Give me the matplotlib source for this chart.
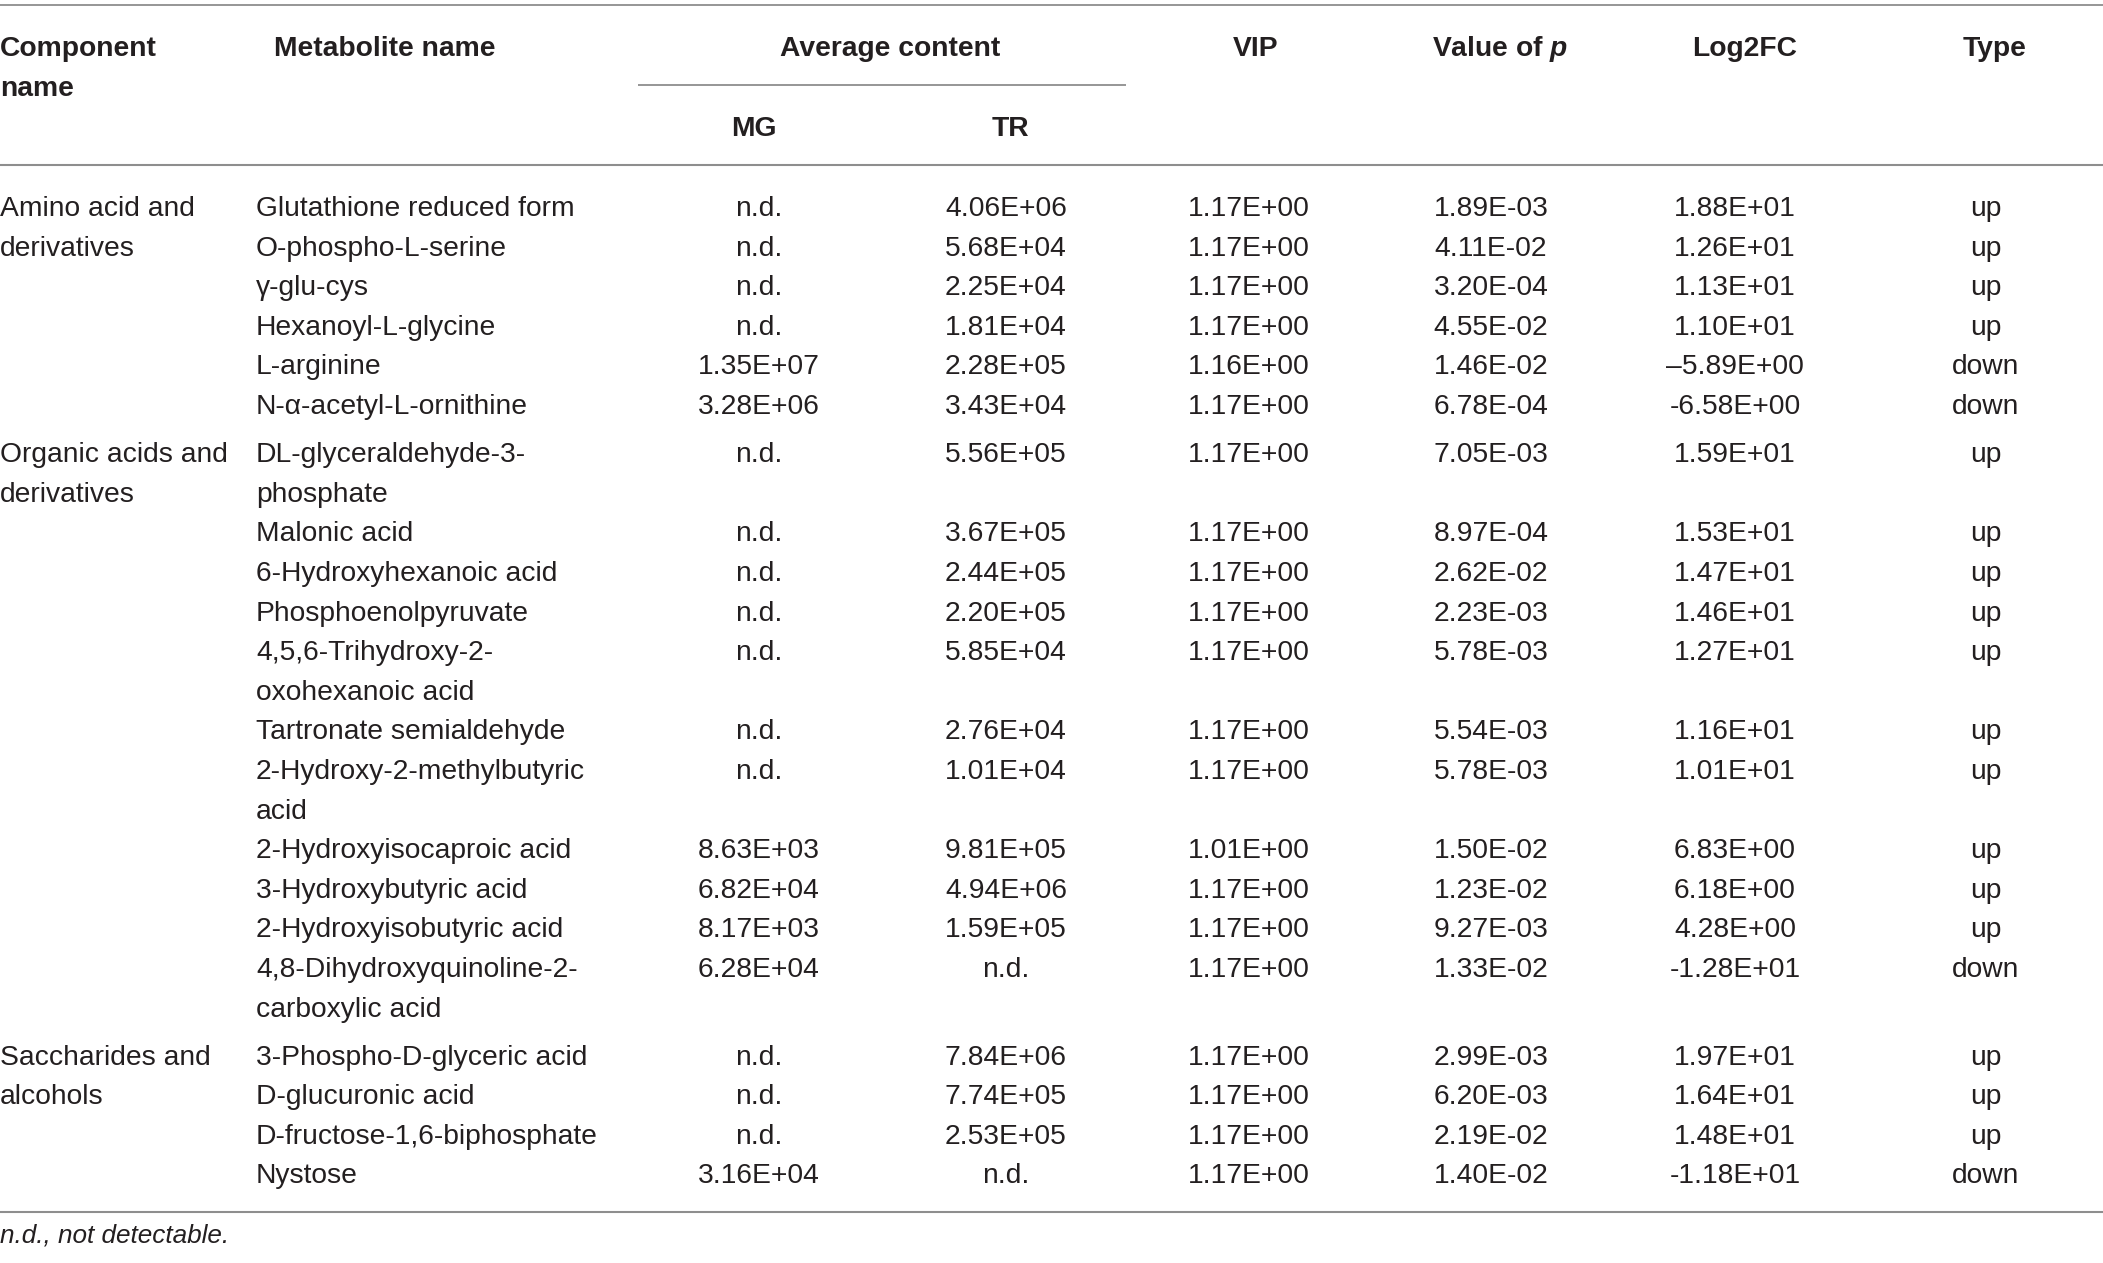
import matplotlib
matplotlib.use("Agg")
import matplotlib.pyplot as plt

plt.rcParams['font.family'] = ['Liberation Sans', 'DejaVu Sans']
plt.rcParams['mathtext.fontset'] = 'custom'
plt.rcParams['mathtext.it'] = 'Liberation Sans:italic:bold'
plt.rcParams['mathtext.rm'] = 'Liberation Sans:bold'

# ---------------- data ----------------
components = ["Amino acid and\nderivatives",
              "Organic acids and\nderivatives",
              "Saccharides and\nalcohols"]

amino_names = ["Glutathione reduced form", "O-phospho-L-serine", "\u03b3-glu-cys",
               "Hexanoyl-L-glycine", "L-arginine", "N-\u03b1-acetyl-L-ornithine"]
organic_names = ["DL-glyceraldehyde-3-\nphosphate", "Malonic acid", "6-Hydroxyhexanoic acid",
                 "Phosphoenolpyruvate", "4,5,6-Trihydroxy-2-\noxohexanoic acid",
                 "Tartronate semialdehyde", "2-Hydroxy-2-methylbutyric\nacid",
                 "2-Hydroxyisocaproic acid", "3-Hydroxybutyric acid",
                 "2-Hydroxyisobutyric acid", "4,8-Dihydroxyquinoline-2-\ncarboxylic acid"]
sacch_names = ["3-Phospho-D-glyceric acid", "D-glucuronic acid",
               "D-fructose-1,6-biphosphate", "Nystose"]

mg = ["n.d.", "n.d.", "n.d.", "n.d.", "1.35E+07", "3.28E+06",
      "n.d.", "n.d.", "n.d.", "n.d.", "n.d.", "n.d.", "n.d.",
      "8.63E+03", "6.82E+04", "8.17E+03", "6.28E+04",
      "n.d.", "n.d.", "n.d.", "3.16E+04"]
tr = ["4.06E+06", "5.68E+04", "2.25E+04", "1.81E+04", "2.28E+05", "3.43E+04",
      "5.56E+05", "3.67E+05", "2.44E+05", "2.20E+05", "5.85E+04", "2.76E+04", "1.01E+04",
      "9.81E+05", "4.94E+06", "1.59E+05", "n.d.",
      "7.84E+06", "7.74E+05", "2.53E+05", "n.d."]
vip = ["1.17E+00", "1.17E+00", "1.17E+00", "1.17E+00", "1.16E+00", "1.17E+00",
       "1.17E+00", "1.17E+00", "1.17E+00", "1.17E+00", "1.17E+00", "1.17E+00", "1.17E+00",
       "1.01E+00", "1.17E+00", "1.17E+00", "1.17E+00",
       "1.17E+00", "1.17E+00", "1.17E+00", "1.17E+00"]
pval = ["1.89E-03", "4.11E-02", "3.20E-04", "4.55E-02", "1.46E-02", "6.78E-04",
        "7.05E-03", "8.97E-04", "2.62E-02", "2.23E-03", "5.78E-03", "5.54E-03", "5.78E-03",
        "1.50E-02", "1.23E-02", "9.27E-03", "1.33E-02",
        "2.99E-03", "6.20E-03", "2.19E-02", "1.40E-02"]
log2fc = ["1.88E+01", "1.26E+01", "1.13E+01", "1.10E+01", "\u20135.89E+00", "-6.58E+00",
          "1.59E+01", "1.53E+01", "1.47E+01", "1.46E+01", "1.27E+01", "1.16E+01", "1.01E+01",
          "6.83E+00", "6.18E+00", "4.28E+00", "-1.28E+01",
          "1.97E+01", "1.64E+01", "1.48E+01", "-1.18E+01"]
types = ["up", "up", "up", "up", "down", "down",
         "up", "up", "up", "up", "up", "up", "up", "up", "up", "up", "down",
         "up", "up", "up", "down"]

headers = ["Component\nname", "Metabolite name", "Average content", "MG", "TR",
           "VIP", "Value of $p$", "Log2FC", "Type"]
footnote = "n.d., not detectable."

# ---------------- layout ----------------
W, H = 2103, 1263
fig = plt.figure(figsize=(W / 100, H / 100), dpi=100)
ax = fig.add_axes([0, 0, 1, 1])
ax.set_xlim(0, W)
ax.set_ylim(H, 0)
ax.axis('off')

FS = 20.3
TXT = '#231f20'
LINE = '#8e8e8e'
LH = 39.6
GAP = 8.5
BASE = 11  # baseline offset from visual centre

def put(x, yc, s, ha='left', weight='normal', style='normal', fs=FS):
    for i, line in enumerate(s.split('\n')):
        ax.text(x, yc + i * LH + BASE, line, ha=ha, va='baseline', fontsize=fs,
                color=TXT, fontweight=weight, fontstyle=style)

# rules
ax.hlines(4.5, 0, W, color=LINE, lw=1.3)
ax.hlines(85, 638, 1126, color=LINE, lw=1.3)
ax.hlines(165, 0, W, color=LINE, lw=1.5)
ax.hlines(1212, 0, W, color=LINE, lw=1.5)

# header
put(0, 45, headers[0], weight='bold')
put(274, 45, headers[1], weight='bold')
put(890, 45, headers[2], ha='center', weight='bold')
put(754, 125, headers[3], ha='center', weight='bold')
put(1010, 125, headers[4], ha='center', weight='bold')
put(1256, 45, headers[5], ha='center', weight='bold')
put(1500, 45, headers[6], ha='center', weight='bold')
put(1745, 45, headers[7], ha='center', weight='bold')
put(1995, 45, headers[8], ha='center', weight='bold')

# body
groups = [amino_names, organic_names, sacch_names]
x_mg, x_tr, x_vip, x_p, x_fc, x_type = 759, 1006, 1249, 1491, 1735, 1986
y = 205.0
k = 0
for g, (comp, names) in enumerate(zip(components, groups)):
    if g > 0:
        y += GAP
    put(0, y, comp)
    for name in names:
        put(256, y, name)
        put(x_mg, y, mg[k], ha='center')
        put(x_tr, y, tr[k], ha='center')
        put(x_vip, y, vip[k], ha='center')
        put(x_p, y, pval[k], ha='center')
        put(x_fc, y, log2fc[k], ha='center')
        put(x_type, y, types[k], ha='center')
        y += LH * (name.count('\n') + 1)
        k += 1

put(0, 1232, footnote, style='italic', fs=18.8)

fig.savefig('out.png', dpi=100)
